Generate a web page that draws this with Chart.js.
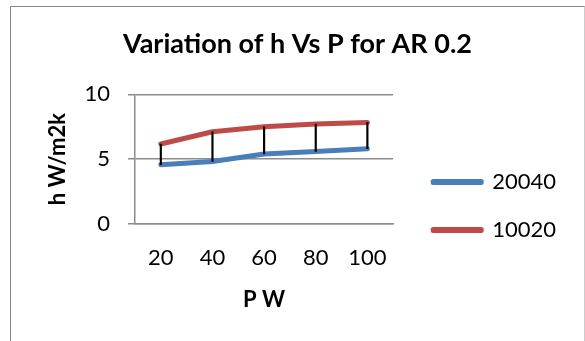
<!DOCTYPE html>
<html>
<head>
<meta charset="utf-8">
<script src="https://cdn.jsdelivr.net/npm/chart.js@4.4.1/dist/chart.umd.min.js"></script>
<style>
  html, body { margin: 0; padding: 0; background: #fff; overflow: hidden; }
  body { width: 585px; height: 341px; position: relative; }
  .doc-line {
    position: absolute; left: 18px; top: -25px; white-space: nowrap;
    font: italic bold 22px "Liberation Serif", serif; color: #000;
  }
  .box {
    position: absolute; left: 10px; top: 6px; width: 573px; height: 400px;
    border-left: 1px solid #888; border-top: 1px solid #888; border-right: 1px solid #ccc;
    overflow: hidden;
  }
  canvas { display: block; }
</style>
</head>
<body>
<div class="doc-line">Effect of power input for fixed value at aspect ratio 0.2</div>
<div class="box"><canvas id="hChart" width="573" height="398"></canvas></div>
<script>
// 데이터
const categories = ['20', '40', '60', '80', '100'];
const series20040 = [4.58, 4.83, 5.4, 5.6, 5.81];
const series10020 = [6.17, 7.12, 7.5, 7.71, 7.84];
const yTicks = [0, 5, 10];

const blue = '#4a7ebb';
const red = '#be4b48';
const gridColor = '#8c8c8c';

// 고저선 (두 계열 사이 검은 세로선)
const hiLo = categories.map((c, i) => [series20040[i], series10020[i]]);

Chart.defaults.font.family = 'Lato';
Chart.defaults.color = '#000';

new Chart(document.getElementById('hChart'), {
  type: 'line',
  data: {
    labels: categories,
    datasets: [
      {
        label: '20040', data: series20040, order: 1,
        borderColor: blue, backgroundColor: blue, borderWidth: 5,
        borderCapStyle: 'round', borderJoinStyle: 'round',
        pointRadius: 0, tension: 0
      },
      {
        label: '10020', data: series10020, order: 1,
        borderColor: red, backgroundColor: red, borderWidth: 5,
        borderCapStyle: 'round', borderJoinStyle: 'round',
        pointRadius: 0, tension: 0
      },
      {
        type: 'bar', label: 'hilo', data: hiLo, order: 0,
        backgroundColor: '#000', barThickness: 1.5
      }
    ]
  },
  options: {
    responsive: false,
    animation: false,
    layout: { padding: { left: 18, right: 18, top: 0, bottom: 0 } },
    plugins: {
      tooltip: { enabled: false },
      title: {
        display: true,
        text: 'Variation of h Vs P for AR 0.2',
        font: { size: 27, weight: 'bold' },
        padding: { top: 21, bottom: 34 }
      },
      legend: {
        position: 'right',
        maxWidth: 200,
        labels: {
          filter: item => item.text !== 'hilo',
          font: { size: 22 },
          boxWidth: 48,
          boxHeight: 1,
          padding: 26
        }
      }
    },
    scales: {
      x: {
        offset: true,
        grid: { display: false, drawTicks: false },
        border: { color: gridColor, width: 1.5 },
        ticks: { font: { size: 22 }, padding: 21 },
        title: {
          display: true, text: 'P W',
          font: { size: 22, weight: 'bold' },
          padding: { top: 0, bottom: 92 }
        },
        afterFit: s => { s.height = 181; }
      },
      y: {
        min: 0, max: 10,
        afterBuildTicks: s => { s.ticks = yTicks.map(v => ({ value: v })); },
        grid: { color: gridColor, lineWidth: 1.5, tickLength: 7 },
        border: { color: gridColor, width: 1.5 },
        ticks: { font: { size: 22 }, padding: 18 },
        title: {
          display: true, text: 'h W/m2k',
          font: { size: 22, weight: 'bold' },
          padding: { top: 16, bottom: 0 }
        },
        afterFit: s => { s.width = 106; }
      },
      y2: {
        position: 'right',
        display: true,
        grid: { display: false },
        border: { display: false },
        ticks: { display: false },
        afterFit: s => { s.width = 14; }
      }
    }
  }
});
</script>
</body>
</html>
